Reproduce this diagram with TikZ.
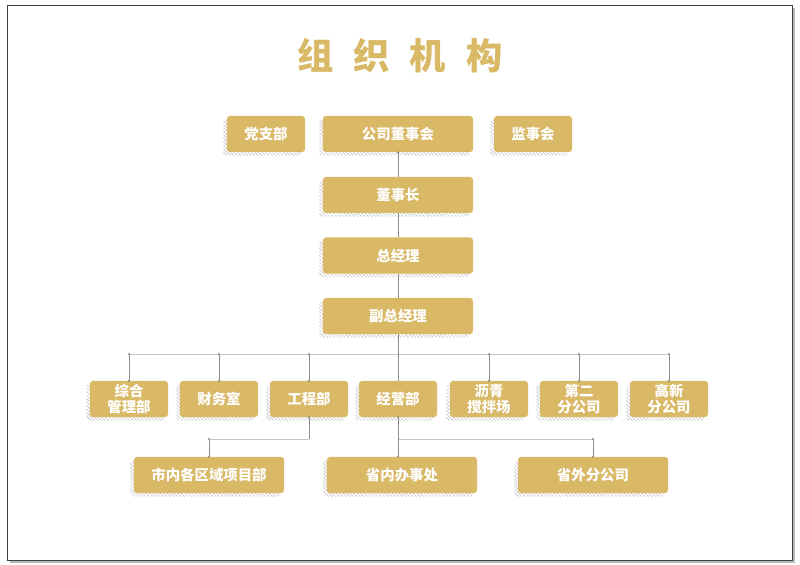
\documentclass[tikz,border=0pt]{standalone}
\usepackage{fontspec}
\setmainfont{Noto Sans CJK SC}
\usetikzlibrary{shadows,patterns}
\definecolor{gold}{HTML}{D9B866}
\definecolor{wire}{HTML}{8C8C8C}
\definecolor{busline}{HTML}{C6C6C6}

\begin{document}
\begin{tikzpicture}[
      x=0.03cm,
      y=-0.03cm,
      unit/.style={fill=gold, rounded corners=2.5pt, text=white, align=center,
        font=\bfseries\fontsize{12.3}{14}\selectfont, minimum height=1.08cm,
        inner sep=1pt,
        general shadow={shadow xshift=-1.1mm, shadow yshift=-1.1mm,
          pattern=north west lines, pattern color=gray!55}},
      wide/.style={unit, minimum width=4.5cm},
      narrow/.style={unit, minimum width=2.34cm},
      link/.style={wire, line width=0.5pt},
      bus/.style={busline, line width=0.5pt},
      title/.style={text=gold, font=\bfseries\fontsize{31}{31}\selectfont}
    ]
    \useasboundingbox (0,0) rectangle (800,565);
    \fill[gray!55] (10,8) rectangle (795,563);
    \draw[black!75, fill=white, line width=0.8pt] (7,5) rectangle (792,560);

    \node[title] (head) at (400,56)
      {组\hspace{0.6cm}织\hspace{0.6cm}机\hspace{0.6cm}构};

    \node[narrow] (party) at (266,134) {党支部};
    \node[wide] (board) at (398,134) {公司董事会};
    \node[narrow] (supv) at (533,134) {监事会};
    \node[wide] (chair) at (398,195) {董事长};
    \node[wide] (gm) at (398,255.5) {总经理};
    \node[wide] (vgm) at (398,316) {副总经理};

    \node[narrow] (admin) at (129,399) {综合\\管理部};
    \node[narrow] (fin) at (219,399) {财务室};
    \node[narrow] (eng) at (309,399) {工程部};
    \node[narrow] (mkt) at (398,399) {经营部};
    \node[narrow] (asph) at (489,399) {沥青\\搅拌场};
    \node[narrow] (branch) at (579,399) {第二\\分公司};
    \node[narrow] (hitech) at (669,399) {高新\\分公司};

    \node[wide] (city) at (209,475) {市内各区域项目部};
    \node[wide] (prov) at (402,475) {省内办事处};
    \node[wide] (outprov) at (593,475) {省外分公司};

    \draw[link] (board) -- (chair);
    \draw[link] (chair) -- (gm);
    \draw[link] (gm) -- (vgm);

    \coordinate (bus) at (398,354);
    \draw[bus] (admin |- bus) -- (hitech |- bus);
    \draw[link] (vgm) -- (mkt);
    \foreach \d in {admin,fin,eng,asph,branch,hitech}
      \draw[link] (\d |- bus) -- (\d.north);

    \coordinate (fork) at (398,439);
    \draw[bus] (eng |- fork) -- (city |- fork);
    \draw[bus] (mkt |- fork) -- (outprov |- fork);
    \draw[link] (eng) -- (eng |- fork);
    \draw[link] (city |- fork) -- (city);
    \draw[link] (mkt.south) -- (mkt |- prov.north);
    \draw[link] (outprov |- fork) -- (outprov);

    \foreach \p in {admin,fin,eng,asph,branch,hitech}
      \fill[wire] (\p |- bus) circle (1.1) (\p.north) circle (1.1);
    \foreach \p in {city,outprov}
      \fill[wire] (\p |- fork) circle (1.1) (\p.north) circle (1.1);
    \fill[wire] (eng.south) circle (1.1) (mkt.south) circle (1.1)
      (mkt |- prov.north) circle (1.1) (board.south) circle (1.1);
  \end{tikzpicture}
\end{document}
